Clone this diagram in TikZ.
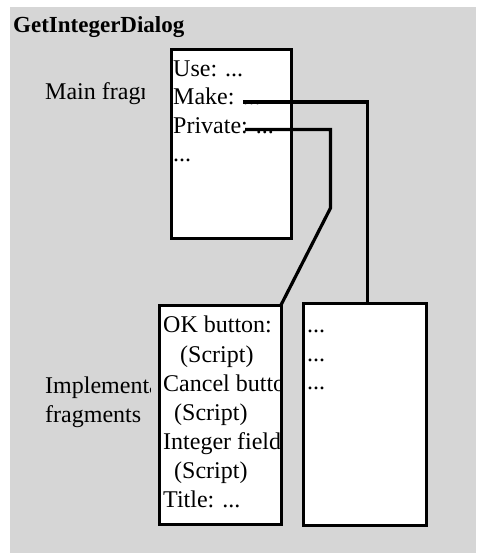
\documentclass[tikz,border=0pt]{standalone}
\usepackage{fontspec}
\setmainfont{Liberation Serif}
\definecolor{bgc}{RGB}{214,214,214}
\tikzset{
  box/.style={draw=black, line width=3pt, fill=white, inner sep=0pt},
  txt/.style={anchor=base west, inner sep=0pt, font=\fontsize{24}{29}\selectfont},
  conn/.style={draw=black, line width=3.2pt, line join=miter},
}
\begin{document}
\begin{tikzpicture}[x=1pt,y=-1pt]
\useasboundingbox (0,0) rectangle (476,553);
\fill[bgc] (10,7) rectangle (476,553);
\node[anchor=base west, inner sep=0pt, font=\bfseries\fontsize{23}{27}\selectfont] (title) at (13,33) {GetIntegerDialog};
% left labels (clipped)
\begin{scope}
\clip (10,60) rectangle (144,120);
\node[txt] (mainlbl) at (45,100) {Main fragm};
\end{scope}
\begin{scope}
\clip (10,360) rectangle (150,440);
\node[txt] (impl1) at (45,393) {Implementat};
\node[txt] (impl2) at (45,422) {fragments};
\end{scope}
% boxes
\node[box, minimum width=120pt, minimum height=189pt] (main) at (231.5,144) {};
\node[box, minimum width=122pt, minimum height=219pt] (implA) at (220.5,414.5) {};
\node[box, minimum width=123pt, minimum height=221.5pt] (implB) at (365,414.25) {};
% main box text
\begin{scope}
\clip (173,51) rectangle (290,237);
\node[txt] (use) at (173,77) {Use: ...};
\node[txt] (make) at (173,105) {Make: ...};
\node[txt] (priv) at (173,134) {Private: ...};
\node[txt] (more) at (173,162) {...};
\end{scope}
% implementation box A text
\begin{scope}
\clip (161,307) rectangle (280,522);
\node[txt] (ok) at (163,332) {OK button: ..};
\node[txt] (s1) at (180,362) {(Script)};
\node[txt] (cancel) at (163,391) {Cancel button};
\node[txt] (s2) at (174,420) {(Script)};
\node[txt] (intf) at (163,449) {Integer field:};
\node[txt] (s3) at (174,478) {(Script)};
\node[txt] (ttl) at (163,507) {Title: ...};
\end{scope}
% implementation box B text
\node[txt] (d1) at (307,332) {...};
\node[txt] (d2) at (307,361) {...};
\node[txt] (d3) at (307,389) {...};
% connectors
\coordinate (makeS) at (243,102);
\coordinate (makeC) at (367.5,102);
\coordinate (privS) at (245,129.5);
\coordinate (privC) at (330.5,129.5);
\coordinate (privK) at (330.5,208);
\coordinate (privE) at (281,305);
\draw[conn] (makeS) -- (makeC) -- (makeC |- implB.north);
\draw[conn] (privS) -- (privC) -- (privK) -- (privE);
\end{tikzpicture}
\end{document}
